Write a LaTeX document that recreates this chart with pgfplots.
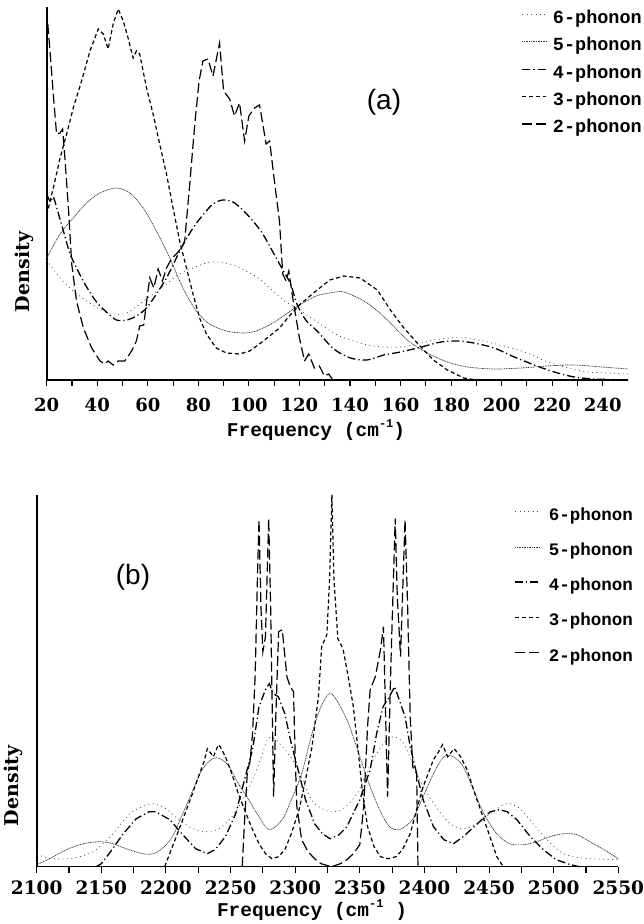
\documentclass[border=0pt]{standalone}
\usepackage{fontspec}
\setmainfont{DejaVu Serif}
\newfontfamily\monof{Liberation Mono}
\newfontfamily\sansf{Liberation Sans}
\usepackage{pgfplots}
\pgfplotsset{compat=1.18}

\newcommand\fs[1]{\fontsize{#1}{#1}\selectfont}

\pgfplotsset{
  phon/.style={
    scale only axis, axis x line=bottom, axis y line=left,
    axis line style={-, line width=1.6pt},
    ytick=\empty, ymin=0,
    tick align=outside, major tick length=6pt, minor tick length=6pt,
    minor x tick num=1,
    x tick style={line width=1.1pt, black},
    /pgf/number format/assume math mode=true,
    /pgf/number format/1000 sep={},
    clip=false,
    legend cell align=left,
    legend image code/.code={\draw[##1] (0pt,0.3em) -- (24pt,0.3em);},
  },
  p6/.style={black!70, line width=0.8pt, dash pattern=on 0.9pt off 3.5pt},
  p5/.style={black!80, line width=0.7pt, dash pattern=on 1pt off 0.7pt},
  p4/.style={black, line width=1.3pt, dash pattern=on 8pt off 3pt on 1.2pt off 3pt},
  p3/.style={black, line width=1.2pt, dash pattern=on 4pt off 2.8pt},
  p2/.style={black, line width=1.2pt, dash pattern=on 10pt off 4pt},
}

\begin{document}
\begin{tikzpicture}
\useasboundingbox (0pt,0pt) rectangle (644pt,924pt);

% ---- panel (a)
\begin{axis}[phon,
  at={(46.7pt,544pt)}, anchor=south west,
  width=581.3pt, height=373pt,
  xmin=20, xmax=250, ymax=373,
  xtick={20,40,...,240},
  xticklabel style={font=\bfseries\fs{18}, inner sep=2pt, yshift=-10pt},
  legend style={at={(rel axis cs:1.0275,0.998)}, anchor=north east, draw=none, fill=none,
    inner sep=0pt, font=\monof\bfseries\fs{18.5}, row sep=8.5pt, column sep=4pt},
]
\addplot[p6, smooth] coordinates {(20,120) (25.3,102) (30.5,89) (35.8,79) (41,71) (46.3,66) (51.6,67) (56.8,76) (62.1,86) (67.4,96) (72.6,106) (77.9,112) (83.2,117) (88.4,118) (93.7,115) (98.9,109) (104.2,101) (109.5,89) (114.7,78) (120,70) (125.3,61) (130.5,52) (135.8,44) (140.2,40) (146.8,35) (153.4,33) (160,33) (166.6,36) (173.2,40) (179.8,42) (186.5,42) (194.4,38) (202.3,33) (210.2,27) (218.2,18) (226.1,12) (234,8) (242,7) (250,6)};
\addlegendentry{6-phonon}
\addplot[p5, smooth] coordinates {(20,122) (25.3,146) (30.5,162) (35.8,177) (41,187) (47.6,192) (52.9,187) (58.2,172) (63.4,149) (68.7,122) (73.9,92) (79.2,69) (84.5,56) (91.1,49) (97.6,47) (102.9,49) (109.5,57) (114.7,66) (120,75) (126.6,84) (132,87) (137.6,88) (146.8,77) (154.8,60) (162.7,40) (170.6,27) (178.5,18) (186.5,13) (197,11) (207.6,12) (218,14) (228.7,15) (239.7,13) (250,11)};
\addlegendentry{5-phonon}
\addplot[p4, smooth] coordinates {(20,186) (21.5,178) (22.6,183) (24,172) (26.5,150) (29,128) (31.8,112) (35.8,93) (39.7,78) (43.6,68) (47.6,60) (51.6,60) (55.5,64) (59.5,72) (63.4,86) (67.4,102) (71.3,122) (73.9,135) (77.9,152) (81.8,165) (85.8,176) (89.7,180) (93.7,178) (97.6,170) (101.6,159) (105.5,146) (109.5,128) (113,112) (116.5,96) (119,76) (122.5,60) (127,49) (133.6,31) (140.2,22) (146.8,20) (153.4,25) (160,28) (168.3,33) (176,38) (182.5,39) (189,37) (197,32) (205,23) (212.9,15) (220.8,8) (228.7,3) (236.6,1) (250,0)};
\addlegendentry{4-phonon}
\addplot[p3] coordinates {(20,165) (22.6,192) (25.3,222) (27.9,246) (30.5,272) (33.8,299) (37.1,329) (40.4,351) (42.4,346) (44.3,331) (46.3,356) (48.3,371) (50.3,359) (52.2,342) (54.2,322) (55.5,329) (56.8,326) (59.5,292) (62.1,266) (64.7,236) (67.4,206) (70,172) (72.6,139) (75.3,112) (77.9,86) (80.5,62) (83.2,46) (87.1,32) (91.1,27) (96.3,26) (100.3,29) (104.2,36) (108.2,44) (112.1,52) (116,64) (120.4,76) (127,90) (132,100) (137.5,104) (144,102) (150.8,90) (156,70) (161,53) (166.6,37) (173,20) (178.5,10) (185,2) (190,0) (250,0)};
\addlegendentry{3-phonon}
\addplot[p2] coordinates {(20,370) (21.3,329) (22.6,286) (23.9,246) (25.3,247) (26.3,251) (27.2,222) (28.6,172) (29.9,116) (31.8,79) (34.5,52) (37.8,32) (41.1,19) (43,16) (44.3,19) (46.3,15) (48.3,19) (50.9,19) (53.6,29) (55.5,39) (56.8,54) (58.4,55) (59.7,82) (60.8,102) (62.4,92) (64.1,111) (65.8,99) (67.4,112) (69.3,121) (71.3,126) (73.3,132) (74.6,139) (76.6,196) (78.6,256) (80.3,299) (81.8,319) (83.8,321) (85.8,304) (88.4,337) (90,289) (92.4,281) (94.3,264) (96.3,277) (98.3,239) (100,264) (102.2,272) (104.2,275) (105.5,256) (106.8,236) (108.2,239) (110.1,199) (112.1,159) (113.4,106) (114.7,99) (115.8,109) (117.1,86) (118.4,66) (120,42) (122,19) (123.7,26) (125.9,12) (127.9,14) (129.9,4) (131.6,6) (133.2,0)};
\addlegendentry{2-phonon}
\end{axis}

% ---- panel (b)
\begin{axis}[phon,
  at={(36.7pt,57.3pt)}, anchor=south west,
  width=581.6pt, height=371.7pt,
  xmin=2100, xmax=2550, ymax=371.7,
  xtick={2100,2150,...,2550},
  xticklabel style={font=\bfseries\fs{18.5}, inner sep=2pt, yshift=-6pt},
  legend style={at={(rel axis cs:1.0287,0.972)}, anchor=north east, draw=none, fill=none,
    inner sep=0pt, font=\monof\bfseries\fs{17.5}, row sep=17pt, column sep=7pt},
]
\addplot[p6, smooth] coordinates {(2100,12) (2112,8) (2125,8) (2136,11) (2146,17) (2159,33) (2172,53) (2182,60) (2190,63) (2200,58) (2210,47) (2221,38) (2231,35) (2241,38) (2251,50) (2262,73) (2272,103) (2279,128) (2285,127) (2292,117) (2300,103) (2308,80) (2315,63) (2327,55) (2337,58) (2348,73) (2355,93) (2363,113) (2371,127) (2377,130) (2384,123) (2392,100) (2399,80) (2410,58) (2420,43) (2430,38) (2441,43) (2451,53) (2461,62) (2466,63) (2474,58) (2484,43) (2495,27) (2505,15) (2515,10) (2528,8) (2550,7)};
\addlegendentry{6-phonon}
\addplot[p5, smooth] coordinates {(2100,2) (2110,8) (2123,17) (2136,23) (2149,25) (2159,23) (2169,18) (2182,13) (2190,13) (2197,18) (2205,30) (2213,53) (2221,77) (2228,97) (2236,108) (2242,108) (2249,100) (2256,83) (2264,67) (2272,50) (2280,37) (2290,47) (2297,67) (2305,93) (2313,133) (2320,160) (2328,173) (2340,147) (2350,110) (2358,80) (2366,55) (2373,40) (2380,37) (2387,42) (2392,50) (2399,70) (2407,93) (2415,110) (2422.5,110) (2430,100) (2438,77) (2446,53) (2456,33) (2466,23) (2477,22) (2487,25) (2497,30) (2508,33) (2518,32) (2528,25) (2539,17) (2550,8)};
\addlegendentry{5-phonon}
\addplot[p4] coordinates {(2146,0) (2150,3) (2156,13) (2167,33) (2177,48) (2187,55) (2192,55) (2203,47) (2213,32) (2223,18) (2232,13) (2238,17) (2246,30) (2254,53) (2262,93) (2267,117) (2272,160) (2277,177) (2280,183) (2283,173) (2287,170) (2292,153) (2297,123) (2303,93) (2308,67) (2315,43) (2321,33) (2327,28) (2334,32) (2340,40) (2350,67) (2358,97) (2363,133) (2368,160) (2372,168) (2377,180) (2381,165) (2385,150) (2389,120) (2394,93) (2399,67) (2407,40) (2415,27) (2422.5,23) (2430,30) (2441,43) (2451,55) (2458,57) (2464,55) (2471.5,47) (2482,30) (2492,17) (2502,7) (2513,2) (2520,0)};
\addlegendentry{4-phonon}
\addplot[p3] coordinates {(2199,0) (2205,20) (2213,47) (2220.5,73) (2226,93) (2229.5,105) (2232,118) (2236.7,110) (2240.6,122) (2242,120) (2246,110) (2251,93) (2256,73) (2262,53) (2267,37) (2272,23) (2277,13) (2282,8) (2287,10) (2292,17) (2297,33) (2303,57) (2308,87) (2313,120) (2318,170) (2320.5,220) (2324.5,232) (2326.6,287) (2328.4,372) (2330,287) (2333,228) (2337,218) (2341,190) (2345,160) (2349,113) (2352,75) (2356,40) (2361,20) (2366,10) (2372,8) (2378,10) (2383,17) (2389,33) (2394,57) (2399,80) (2407,107) (2411,115) (2414,122) (2418,110) (2423,118) (2428,110) (2433,97) (2440.6,67) (2448,40) (2456,10) (2461,0)};
\addlegendentry{3-phonon}
\addplot[p2] coordinates {(2259,0) (2261,50) (2263,95) (2265,105) (2267,133) (2269,190) (2271,300) (2272,347) (2273.5,260) (2275,215) (2277,230) (2279.5,348) (2281,260) (2283.3,70) (2285,150) (2287.2,235) (2290,237) (2293.6,190) (2296.2,180) (2298.7,175) (2300,110) (2301.3,60) (2305,27) (2310,15) (2315,8) (2320,3) (2328,0) (2335,3) (2340,7) (2345,13) (2350,22) (2353,60) (2356,140) (2358,177) (2362,190) (2366,217) (2368.3,240) (2370,150) (2371.5,70) (2374,200) (2377.4,348) (2379,270) (2381.5,210) (2385,347) (2387,260) (2389,150) (2391,100) (2394,93) (2395,0)};
\addlegendentry{2-phonon}
\end{axis}

% ---- labels
\node[font=\monof\bfseries\fs{19.5}] at (316pt,494pt) {Frequency (cm\raisebox{0.45em}{\fs{12}-1})};
\node[font=\monof\bfseries\fs{19.5}] at (312pt,14pt) {Frequency (cm\raisebox{0.45em}{\fs{12}-1} )};
\node[font=\bfseries\fs{19}, rotate=90] at (24pt,652pt) {Density};
\node[font=\bfseries\fs{19}, rotate=90] at (13pt,138pt) {Density};
\node[font=\sansf\fs{28}] at (384pt,822pt) {(a)};
\node[font=\sansf\fs{28}] at (133pt,347pt) {(b)};
\end{tikzpicture}
\end{document}
